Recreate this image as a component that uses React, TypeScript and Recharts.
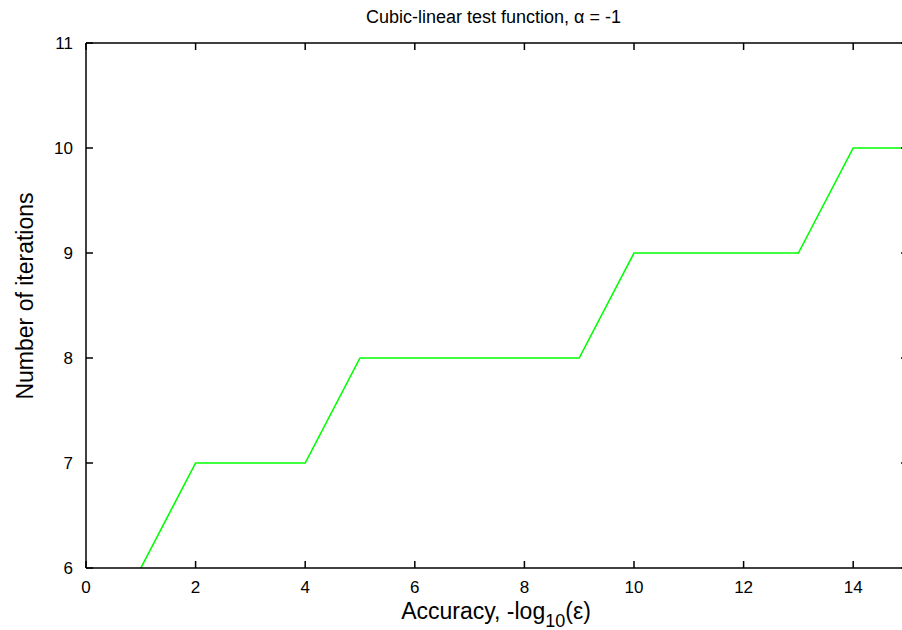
import React from "react";
import { LineChart, Line, XAxis, YAxis } from "recharts";

const accuracy = [1, 2, 4, 5, 9, 10, 13, 14, 15];
const iterations = [6, 7, 7, 8, 8, 9, 9, 10, 10];
const xTicks = [0, 2, 4, 6, 8, 10, 12, 14];
const yTicks = [6, 7, 8, 9, 10, 11];

const data = accuracy.map((x, i) => ({ x, y: iterations[i] }));

const FONT = '"Liberation Sans", Arial, Helvetica, sans-serif';
const tickStyle = { fontSize: 17, fill: "#000", fontFamily: FONT };
const noLabel = () => <g />;

export default function App() {
  return (
    <div
      style={{
        position: "absolute",
        left: 0,
        top: 0,
        width: 902,
        height: 630,
        overflow: "hidden",
        background: "#fff",
      }}
    >
      <LineChart
        width={920}
        height={630}
        data={data}
        margin={{ top: 42, right: 11, left: 0, bottom: 0 }}
      >
        <XAxis
          xAxisId="b"
          dataKey="x"
          type="number"
          domain={[0, 15]}
          ticks={xTicks}
          allowDataOverflow
          height={62}
          tickSize={-7}
          tickMargin={20}
          tick={tickStyle}
          stroke="#000"
          strokeWidth={1.5}
        />
        <XAxis
          xAxisId="t"
          orientation="top"
          dataKey="x"
          type="number"
          domain={[0, 15]}
          ticks={xTicks}
          allowDataOverflow
          height={1}
          tickSize={-7}
          tick={noLabel}
          stroke="#000"
          strokeWidth={1.5}
        />
        <YAxis
          yAxisId="l"
          type="number"
          domain={[6, 11]}
          ticks={yTicks}
          allowDataOverflow
          width={86}
          tickSize={-7}
          tickMargin={20}
          tick={tickStyle}
          stroke="#000"
          strokeWidth={1.5}
        />
        <YAxis
          yAxisId="r"
          orientation="right"
          type="number"
          domain={[6, 11]}
          ticks={yTicks}
          allowDataOverflow
          width={1}
          tickSize={-7}
          tick={noLabel}
          stroke="#000"
          strokeWidth={1.5}
        />
        <Line
          xAxisId="t"
          yAxisId="r"
          type="linear"
          dataKey="y"
          stroke="none"
          dot={false}
          activeDot={false}
          legendType="none"
          isAnimationActive={false}
        />
        <Line
          xAxisId="b"
          yAxisId="l"
          type="linear"
          dataKey="y"
          stroke="#00ff00"
          strokeWidth={1.6}
          dot={false}
          isAnimationActive={false}
        />
      </LineChart>
      <svg
        width={902}
        height={630}
        style={{ position: "absolute", left: 0, top: 0, pointerEvents: "none" }}
        fontFamily={FONT}
      >
        <text x={493.5} y={22.7} textAnchor="middle" fontSize={18} fill="#000">
          Cubic-linear test function, α = -1
        </text>
        <text x={496} y={619} textAnchor="middle" fontSize={23} fill="#000">
          Accuracy, -log
          <tspan fontSize={18} dy={8}>
            10
          </tspan>
          <tspan dy={-8}>(ε)</tspan>
        </text>
        <text
          x={0}
          y={0}
          transform="translate(33,296) rotate(-90)"
          textAnchor="middle"
          fontSize={23}
          fill="#000"
        >
          Number of iterations
        </text>
      </svg>
    </div>
  );
}
